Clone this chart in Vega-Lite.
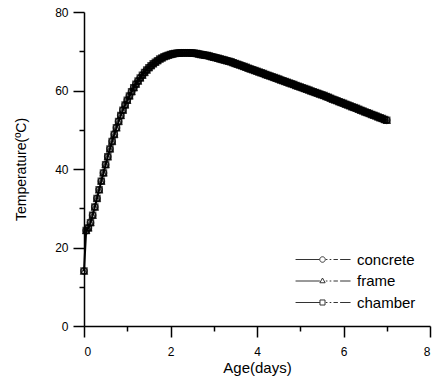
{
"$schema": "https://vega.github.io/schema/vega-lite/v6.json",
"width": 346, "height": 314,
"autosize": "none",
"padding": {"left": 84, "top": 12, "right": 8, "bottom": 59},
"config": {
 "view": {"stroke": null},
 "font": "Liberation Sans",
 "axis": {"domainColor": "black", "domainWidth": 1.5, "tickColor": "black", "tickWidth": 1.5, "labelFont": "Liberation Sans", "labelFontSize": 12, "labelColor": "black", "titleFont": "Liberation Sans", "titleFontSize": 14, "titleFontWeight": "normal", "titleColor": "black", "grid": false},
 "legend": {"labelFont": "Liberation Sans", "labelFontSize": 15, "labelColor": "black"}
},
"data": {"values": [
{"t":0,"v":14},{"t":0.05,"v":24.3},{"t":0.1,"v":25},{"t":0.15,"v":26.3},{"t":0.2,"v":28.2},{"t":0.25,"v":30.3},{"t":0.3,"v":32.5},{"t":0.35,"v":34.7},{"t":0.4,"v":36.9},{"t":0.45,"v":39},{"t":0.5,"v":41.1},{"t":0.55,"v":43.1},{"t":0.6,"v":45.1},{"t":0.65,"v":47},{"t":0.7,"v":48.8},{"t":0.75,"v":50.5},{"t":0.8,"v":52.1},{"t":0.85,"v":53.6},{"t":0.9,"v":55},{"t":0.95,"v":56.3},
{"t":1,"v":57.5},{"t":1.05,"v":58.6},{"t":1.1,"v":59.7},{"t":1.15,"v":60.7},{"t":1.2,"v":61.6},{"t":1.25,"v":62.4},{"t":1.3,"v":63.2},{"t":1.35,"v":63.9},{"t":1.4,"v":64.6},{"t":1.45,"v":65.2},{"t":1.5,"v":65.8},{"t":1.55,"v":66.3},{"t":1.6,"v":66.8},{"t":1.65,"v":67.2},{"t":1.7,"v":67.6},{"t":1.75,"v":68},{"t":1.8,"v":68.3},{"t":1.85,"v":68.6},{"t":1.9,"v":68.8},{"t":1.95,"v":69},
{"t":2,"v":69.2},{"t":2.05,"v":69.3},{"t":2.1,"v":69.4},{"t":2.15,"v":69.5},{"t":2.2,"v":69.5},{"t":2.25,"v":69.6},{"t":2.3,"v":69.6},{"t":2.35,"v":69.6},{"t":2.4,"v":69.6},{"t":2.45,"v":69.6},{"t":2.5,"v":69.5},{"t":2.55,"v":69.5},{"t":2.6,"v":69.4},{"t":2.65,"v":69.3},{"t":2.7,"v":69.2},{"t":2.75,"v":69.1},{"t":2.8,"v":69},{"t":2.85,"v":68.9},{"t":2.9,"v":68.8},{"t":2.95,"v":68.6},
{"t":3,"v":68.5},{"t":3.05,"v":68.35},{"t":3.1,"v":68.2},{"t":3.15,"v":68.05},{"t":3.2,"v":67.9},{"t":3.25,"v":67.75},{"t":3.3,"v":67.6},{"t":3.35,"v":67.45},{"t":3.4,"v":67.3},{"t":3.45,"v":67.1},{"t":3.5,"v":66.9},{"t":3.55,"v":66.7},{"t":3.6,"v":66.5},{"t":3.65,"v":66.3},{"t":3.7,"v":66.1},{"t":3.75,"v":65.9},{"t":3.8,"v":65.7},{"t":3.85,"v":65.5},{"t":3.9,"v":65.3},{"t":3.95,"v":65.1},
{"t":4,"v":64.9},{"t":4.05,"v":64.7},{"t":4.1,"v":64.5},{"t":4.15,"v":64.3},{"t":4.2,"v":64.1},{"t":4.25,"v":63.9},{"t":4.3,"v":63.7},{"t":4.35,"v":63.5},{"t":4.4,"v":63.3},{"t":4.45,"v":63.1},{"t":4.5,"v":62.9},{"t":4.55,"v":62.7},{"t":4.6,"v":62.5},{"t":4.65,"v":62.3},{"t":4.7,"v":62.1},{"t":4.75,"v":61.9},{"t":4.8,"v":61.7},{"t":4.85,"v":61.5},{"t":4.9,"v":61.3},{"t":4.95,"v":61.1},
{"t":5,"v":60.9},{"t":5.05,"v":60.7},{"t":5.1,"v":60.5},{"t":5.15,"v":60.3},{"t":5.2,"v":60.1},{"t":5.25,"v":59.9},{"t":5.3,"v":59.7},{"t":5.35,"v":59.5},{"t":5.4,"v":59.3},{"t":5.45,"v":59.1},{"t":5.5,"v":58.9},{"t":5.55,"v":58.7},{"t":5.6,"v":58.5},{"t":5.65,"v":58.3},{"t":5.7,"v":58.05},{"t":5.75,"v":57.8},{"t":5.8,"v":57.6},{"t":5.85,"v":57.4},{"t":5.9,"v":57.15},{"t":5.95,"v":56.95},
{"t":6,"v":56.75},{"t":6.05,"v":56.5},{"t":6.1,"v":56.3},{"t":6.15,"v":56.1},{"t":6.2,"v":55.85},{"t":6.25,"v":55.65},{"t":6.3,"v":55.45},{"t":6.35,"v":55.2},{"t":6.4,"v":55},{"t":6.45,"v":54.8},{"t":6.5,"v":54.55},{"t":6.55,"v":54.35},{"t":6.6,"v":54.15},{"t":6.65,"v":53.9},{"t":6.7,"v":53.7},{"t":6.75,"v":53.5},{"t":6.8,"v":53.25},{"t":6.85,"v":53.05},{"t":6.9,"v":52.85},{"t":6.95,"v":52.6},{"t":7,"v":52.4}
]},
"encoding": {
 "x": {"field": "t", "type": "quantitative", "scale": {"domain": [0, 8], "nice": false, "zero": false},
   "axis": {"title": "Age(days)", "titleFontSize": 15, "values": [0,1,2,3,4,5,6,7,8], "tickSize": {"condition": {"test": "datum.value % 2 === 0", "value": 11}, "value": 5}, "labelExpr": "datum.value % 2 === 0 ? datum.label : ''", "labelPadding": 9, "titlePadding": 3}},
 "y": {"field": "v", "type": "quantitative", "scale": {"domain": [0, 80], "nice": false},
   "axis": {"title": "Temperature(ºC)", "values": [0,10,20,30,40,50,60,70,80], "tickSize": {"condition": {"test": "datum.value % 20 === 0", "value": 11}, "value": 5}, "labelExpr": "datum.value % 20 === 0 ? datum.label : ''", "labelPadding": 5, "titlePadding": 26}}
},
"layer": [
 {"mark": {"type": "line", "color": "black", "strokeWidth": 2}, "encoding": {}},
 {"mark": {"type": "point", "shape": "circle", "filled": false, "color": "black", "strokeWidth": 1.5, "size": 40}, "encoding": {}},
 {"mark": {"type": "point", "shape": "triangle-up", "filled": false, "color": "black", "strokeWidth": 1.5, "size": 36}, "encoding": {}},
 {"mark": {"type": "point", "shape": "square", "filled": false, "color": "black", "strokeWidth": 1.5, "size": 36}, "encoding": {}},
 {"data": {"values": [{"s": "concrete"}, {"s": "frame"}, {"s": "chamber"}]},
  "mark": {"type": "point", "opacity": 0, "filled": false},
  "encoding": {
   "x": {"datum": 0, "type": "quantitative"},
   "y": {"datum": 0, "type": "quantitative"},
   "shape": {"field": "s", "type": "nominal",
    "scale": {"domain": ["concrete", "frame", "chamber"], "range": [
      "M-2.45,0L-0.27,0M-0.25,0A0.25,0.25 0 1,0 0.25,0A0.25,0.25 0 1,0 -0.25,0M0.3,0L0.45,0M0.65,0L0.8,0M1.0,0L1.4,0M1.6,0L2.55,0",
      "M-2.45,0L-0.24,0M0,-0.27L0.24,0.16L-0.24,0.16ZM0.3,0L0.45,0M0.65,0L0.8,0M1.0,0L1.4,0M1.6,0L2.55,0",
      "M-2.45,0L-0.23,0M-0.23,-0.23H0.23V0.23H-0.23ZM0.3,0L0.45,0M0.65,0L0.8,0M1.0,0L1.4,0M1.6,0L2.55,0"]},
    "legend": {"title": null, "orient": "none", "legendX": 227, "legendY": 236, "padding": 0, "rowPadding": 1.5,
      "symbolSize": 484, "symbolStrokeColor": "#333", "symbolFillColor": "white", "symbolStrokeWidth": 1, "symbolOpacity": 1, "labelOffset": 23}
   }}}
]
}
